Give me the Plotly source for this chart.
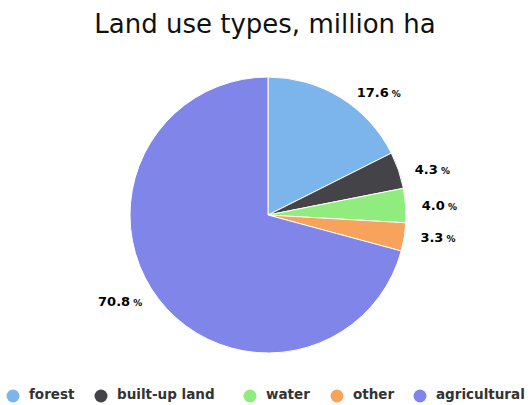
import plotly.graph_objects as go

categories = ["forest", "built-up land", "water", "other", "agricultural"]
shares = [17.6, 4.3, 4.0, 3.3, 70.8]
colors = ["#7cb5ec", "#434348", "#90ed7d", "#f7a35c", "#8085e9"]

W, H = 530, 405
cx, cy, r = 268, 215, 138

pad = "&nbsp;&nbsp;&nbsp;"
lab = "<b>%{value:.1f}</b><span style='font-size:9px'><b> %</b></span>"
templates = [pad + lab, pad + lab, pad + lab, pad + lab, lab + pad]

fig = go.Figure()
fig.add_trace(go.Pie(
    labels=categories,
    values=shares,
    sort=False,
    direction="clockwise",
    rotation=0,
    marker=dict(colors=colors, line=dict(color="#ffffff", width=1)),
    texttemplate=templates,
    textposition="outside",
    textfont=dict(family="DejaVu Sans", size=13, color="#000000"),
    showlegend=False,
    hoverinfo="label+percent",
    domain=dict(x=[(cx - r) / W, (cx + r) / W], y=[1 - (cy + r) / H, 1 - (cy - r) / H]),
))

# legend row drawn on a hidden pixel-space axis
legend_cx = [13, 101, 250, 337, 420]
legend_y = 396
fig.add_trace(go.Scatter(
    x=legend_cx, y=[legend_y] * len(categories), mode="markers",
    marker=dict(symbol="circle", size=13, color=colors),
    showlegend=False, hoverinfo="skip", cliponaxis=False,
))
fig.add_trace(go.Scatter(
    x=[c + 16 for c in legend_cx], y=[legend_y] * len(categories), mode="text",
    text=categories, textposition="middle right",
    textfont=dict(family="DejaVu Sans", size=13.5, color="#333333", weight="bold"),
    showlegend=False, hoverinfo="skip", cliponaxis=False,
))

fig.update_layout(
    width=W, height=H,
    margin=dict(l=0, r=0, t=0, b=0),
    paper_bgcolor="#ffffff",
    plot_bgcolor="rgba(0,0,0,0)",
    showlegend=False,
    title=dict(text="Land use types, million ha", x=0.5, xanchor="center",
               y=1 - 24 / H, yanchor="middle",
               font=dict(family="DejaVu Sans", size=26, color="#111111")),
    xaxis=dict(visible=False, range=[0, W], domain=[0, 1], fixedrange=True),
    yaxis=dict(visible=False, range=[H, 0], domain=[0, 1], fixedrange=True),
)

fig.write_html("out.html", config={"displayModeBar": False},
               post_script="document.body.style.margin='0px';")
